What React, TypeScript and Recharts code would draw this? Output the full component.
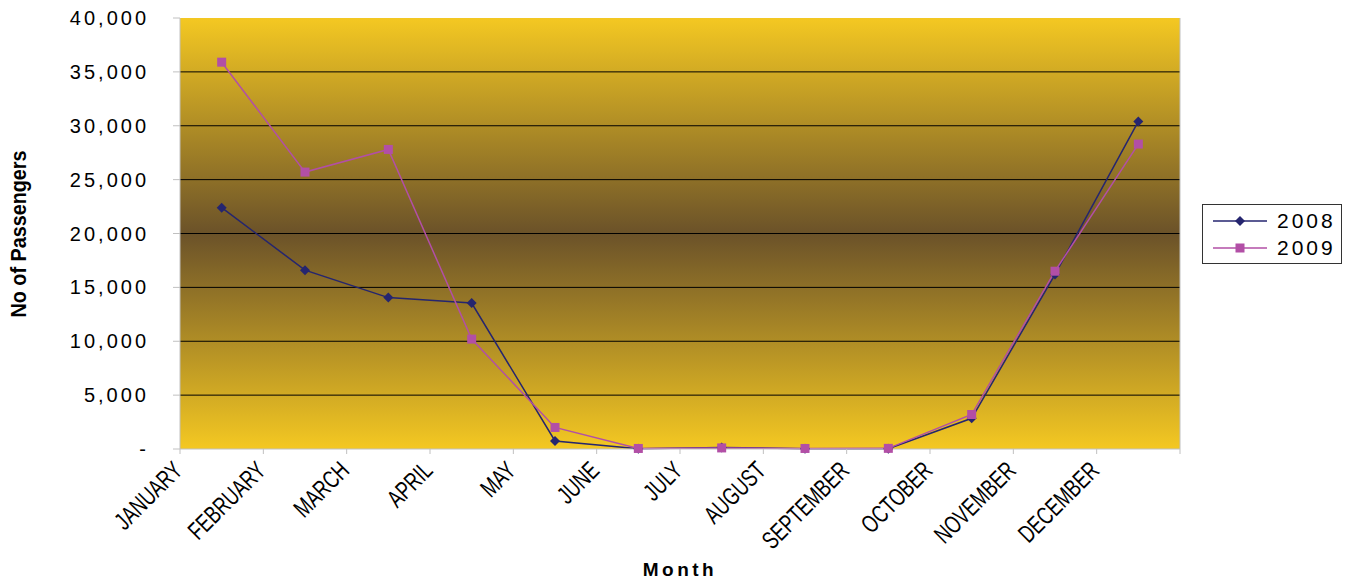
import { LineChart, Line, XAxis, YAxis, CartesianGrid } from 'recharts';

// Monthly passenger counts.
const months = [
  'JANUARY', 'FEBRUARY', 'MARCH', 'APRIL', 'MAY', 'JUNE',
  'JULY', 'AUGUST', 'SEPTEMBER', 'OCTOBER', 'NOVEMBER', 'DECEMBER',
];
const pax2008 = [22400, 16600, 14050, 13550, 750, 30, 150, 20, 30, 2850, 16200, 30400];
const pax2009 = [35900, 25700, 27800, 10200, 2000, 50, 100, 50, 60, 3200, 16500, 28300];
const yTicks = [0, 5000, 10000, 15000, 20000, 25000, 30000, 35000, 40000];
// Category boundaries: labels sit on the boundary ticks, points sit mid-category.
const xTicks = months.map((_, i) => i).concat(months.length);

const C2008 = '#25256f';
const C2009 = '#b24fa6';
const FONT = 'Liberation Sans, Arial, sans-serif';

const rows = months.map((m, i) => ({ month: m, pos: i + 0.5, y2008: pax2008[i], y2009: pax2009[i] }));

const fmtY = (v: number) => (v === 0 ? '-' : v.toLocaleString('en-US'));

function MonthTick({ x, y, payload }: any) {
  const label = months[payload.value] ?? '';
  return (
    <g transform={`translate(${x + 4},${y + 16})`}>
      <text transform="rotate(-45) scale(0.72,1)" textAnchor="end" fontFamily={FONT} fontSize={25} fill="#000">
        {label}
      </text>
    </g>
  );
}

function Diamond({ cx, cy }: any) {
  if (cx == null || cy == null) return null;
  const r = 5;
  return <polygon points={`${cx},${cy - r} ${cx + r},${cy} ${cx},${cy + r} ${cx - r},${cy}`} fill={C2008} />;
}

function Square({ cx, cy }: any) {
  if (cx == null || cy == null) return null;
  const s = 9;
  return <rect x={cx - s / 2} y={cy - s / 2} width={s} height={s} fill={C2009} />;
}

function LegendBox() {
  const item = (label: string, colour: string, marker: 'd' | 's') => (
    <div style={{ display: 'flex', alignItems: 'center', height: 27 }}>
      <svg width={60} height={14}>
        <line x1={2} y1={7} x2={56} y2={7} stroke={colour} strokeWidth={1.5} />
        {marker === 'd' ? (
          <polygon points="29,2 34,7 29,12 24,7" fill={colour} />
        ) : (
          <rect x={24.5} y={2.5} width={9} height={9} fill={colour} />
        )}
      </svg>
      <span style={{ fontSize: 21, letterSpacing: 3, marginLeft: 6 }}>{label}</span>
    </div>
  );
  return (
    <div
      style={{
        position: 'absolute',
        left: 1202,
        top: 204,
        border: '1px solid #333',
        background: '#fff',
        width: 140,
        padding: '2px 0 2px 8px',
        boxSizing: 'border-box',
        fontFamily: FONT,
      }}
    >
      {item('2008', C2008, 'd')}
      {item('2009', C2009, 's')}
    </div>
  );
}

export default function App() {
  return (
    <div style={{ position: 'absolute', left: 0, top: 0, width: 1346, height: 581 }}>
      <LineChart width={1346} height={581} data={rows} margin={{ top: 18, right: 165, bottom: 0, left: 0 }}>
        <defs>
          <linearGradient id="plotBg" x1="0" y1="0" x2="0" y2="1">
            <stop offset="0%" stopColor="#f4c822" />
            <stop offset="50%" stopColor="#6b5229" />
            <stop offset="100%" stopColor="#f4c822" />
          </linearGradient>
        </defs>
        <CartesianGrid
          vertical={false}
          stroke="#000"
          fill="url(#plotBg)"
          fillOpacity={1}
          horizontalValues={yTicks.slice(1, -1)}
        />
        <XAxis
          dataKey="pos"
          type="number"
          domain={[0, months.length]}
          ticks={xTicks}
          interval={0}
          height={132}
          stroke="#c0c0c0"
          tickSize={5}
          tick={<MonthTick />}
          label={{
            content: () => (
              <text x={680} y={576} textAnchor="middle" fontFamily={FONT} fontWeight="bold" fontSize={19} letterSpacing={3.5}>
                Month
              </text>
            ),
          }}
        />
        <YAxis
          domain={[0, 40000]}
          ticks={yTicks}
          width={180}
          stroke="#c0c0c0"
          tickSize={7}
          tickMargin={24}
          tickFormatter={fmtY}
          tick={{ fill: '#000', fontSize: 20, letterSpacing: 3, fontFamily: FONT }}
          label={{
            content: () => (
              <text
                transform="translate(26,234) rotate(-90) scale(0.9,1)"
                textAnchor="middle"
                fontFamily={FONT}
                fontWeight="bold"
                fontSize={22}
              >
                No of Passengers
              </text>
            ),
          }}
        />
        <YAxis yAxisId="right" orientation="right" domain={[0, 40000]} width={1} tick={false} tickLine={false} stroke="#c0c0c0" />
        <Line
          dataKey="y2008"
          name="2008"
          stroke={C2008}
          strokeWidth={1.5}
          dot={<Diamond />}
          activeDot={false}
          isAnimationActive={false}
        />
        <Line
          dataKey="y2009"
          name="2009"
          stroke={C2009}
          strokeWidth={1.5}
          dot={<Square />}
          activeDot={false}
          isAnimationActive={false}
        />
      </LineChart>
      <LegendBox />
    </div>
  );
}
